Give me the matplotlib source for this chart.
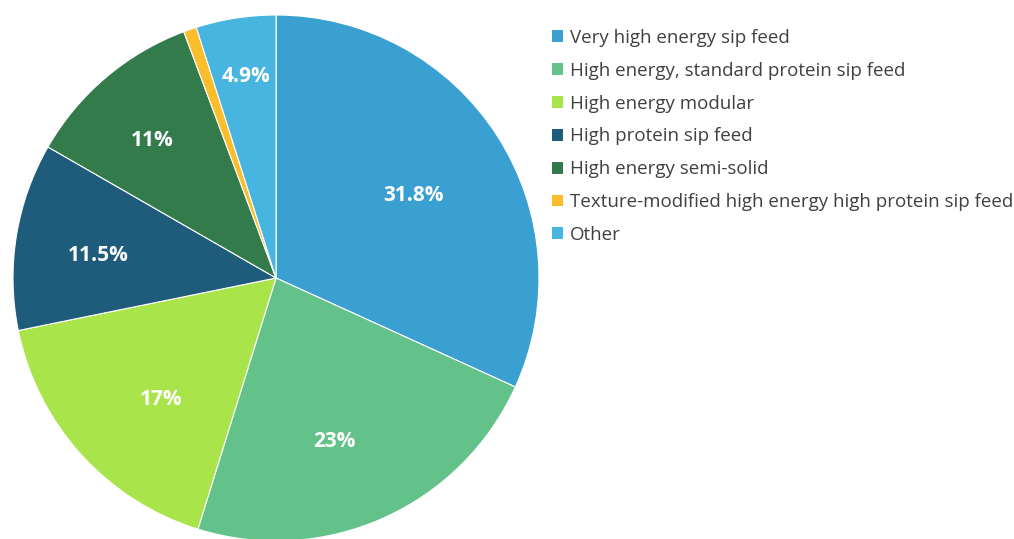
import matplotlib
matplotlib.use("Agg")
import matplotlib.pyplot as plt
import numpy as np

categories = [
    "Very high energy sip feed",
    "High energy, standard protein sip feed",
    "High energy modular",
    "High protein sip feed",
    "High energy semi-solid",
    "Texture-modified high energy high protein sip feed",
    "Other",
]
values = [31.8, 23, 17, 11.5, 11, 0.8, 4.9]
labels = ["31.8%", "23%", "17%", "11.5%", "11%", "", "4.9%"]
colors = ["#3A9FD1", "#63C28A", "#A9E44B", "#1F5B7A", "#347B4C", "#FBBD2C", "#48B5E0"]
# label placement tweaks (layout only): radial fraction and clockwise angle shift (deg)
label_dist = [0.610, 0.658, 0.635, 0.680, 0.705, 0.7, 0.773]
label_shift = [1.9, 4.5, -4.4, -1.8, -1.6, 0.0, 0.4]

W, H = 1014, 539
fig = plt.figure(figsize=(W / 100, H / 100), dpi=100)
ax = fig.add_axes([0, 0, 1, 1])

cx, cy, R = 276, 261, 263
wedges, _ = ax.pie(
    values,
    colors=colors,
    startangle=90,
    counterclock=False,
    center=(cx, cy),
    radius=R,
    wedgeprops=dict(edgecolor="white", linewidth=0.8),
    frame=True,
)
ax.set_xlim(0, W)
ax.set_ylim(0, H)
ax.set_aspect("equal")
ax.axis("off")

for w, lab, d, s in zip(wedges, labels, label_dist, label_shift):
    if not lab:
        continue
    ang = np.deg2rad((w.theta1 + w.theta2) / 2 - s)
    ax.text(cx + d * R * np.cos(ang), cy + d * R * np.sin(ang), lab,
            ha="center", va="center", color="white", fontsize=15,
            fontweight="bold", family="Open Sans")

leg = ax.legend(
    wedges,
    categories,
    loc="upper left",
    bbox_to_anchor=(552 / W, 1 - 29 / H),
    frameon=False,
    prop=dict(family="Open Sans", size=13.5),
    handlelength=0.6,
    handleheight=0.6,
    handletextpad=0.35,
    labelspacing=0.79,
    borderaxespad=0,
    borderpad=0,
)
for t in leg.get_texts():
    t.set_color("#404040")
for h in leg.legend_handles:
    h.set_edgecolor("none")

fig.savefig("out.png", dpi=100)
